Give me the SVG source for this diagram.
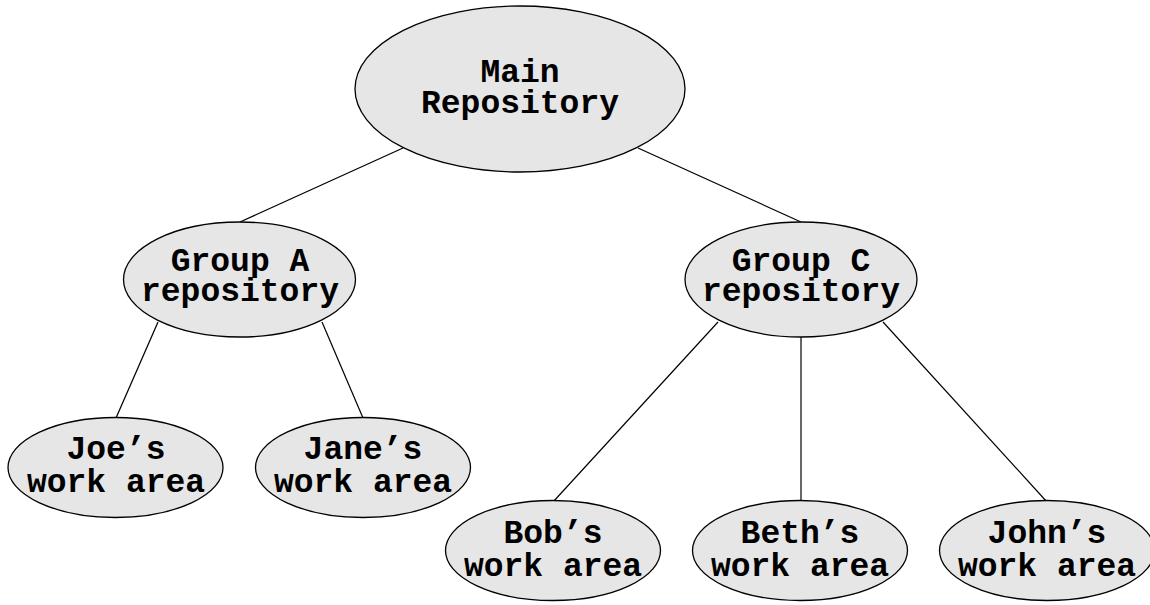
<svg xmlns="http://www.w3.org/2000/svg" width="1150" height="605" viewBox="0 0 1150 605">
<style>
.n ellipse{fill:#e6e6e6;stroke:#000;stroke-width:1.3}
.n text{font-family:"Liberation Mono","Courier New",monospace;font-weight:bold;font-size:33px;text-anchor:middle;fill:#000}
.c line{stroke:#000;stroke-width:1.2}
</style>
<rect width="1150" height="605" fill="#fff"/>
<g id="connectors" class="c">
<line x1="403" y1="148" x2="240" y2="222"/>
<line x1="638" y1="148" x2="801" y2="222"/>
<line x1="158" y1="322" x2="116" y2="418"/>
<line x1="322" y1="322" x2="363" y2="418"/>
<line x1="718" y1="322" x2="553" y2="502"/>
<line x1="801" y1="337" x2="801" y2="502"/>
<line x1="883" y1="322" x2="1047" y2="502"/>
</g>
<g id="main" class="n"><ellipse cx="520" cy="89" rx="165" ry="83"/><text x="520" y="82">Main</text><text x="520" y="113">Repository</text></g>
<g id="groupA" class="n"><ellipse cx="239.500" cy="279.500" rx="116" ry="57.500"/><text x="240" y="271">Group A</text><text x="240" y="301">repository</text></g>
<g id="groupC" class="n"><ellipse cx="801" cy="279.500" rx="116" ry="57.500"/><text x="801" y="271">Group C</text><text x="801" y="301">repository</text></g>
<g id="joe" class="n"><ellipse cx="115.500" cy="467.500" rx="107.500" ry="50"/><text x="116" y="459">Joe’s</text><text x="116" y="492">work area</text></g>
<g id="jane" class="n"><ellipse cx="363" cy="467.500" rx="107.500" ry="50"/><text x="363" y="459">Jane’s</text><text x="363" y="492">work area</text></g>
<g id="bob" class="n"><ellipse cx="553" cy="550.500" rx="107.500" ry="50"/><text x="553" y="543">Bob’s</text><text x="553" y="576">work area</text></g>
<g id="beth" class="n"><ellipse cx="800" cy="550.500" rx="107.500" ry="50"/><text x="800" y="543">Beth’s</text><text x="800" y="576">work area</text></g>
<g id="john" class="n"><ellipse cx="1047" cy="550.500" rx="107.500" ry="50"/><text x="1047" y="543">John’s</text><text x="1047" y="576">work area</text></g>
</svg>
